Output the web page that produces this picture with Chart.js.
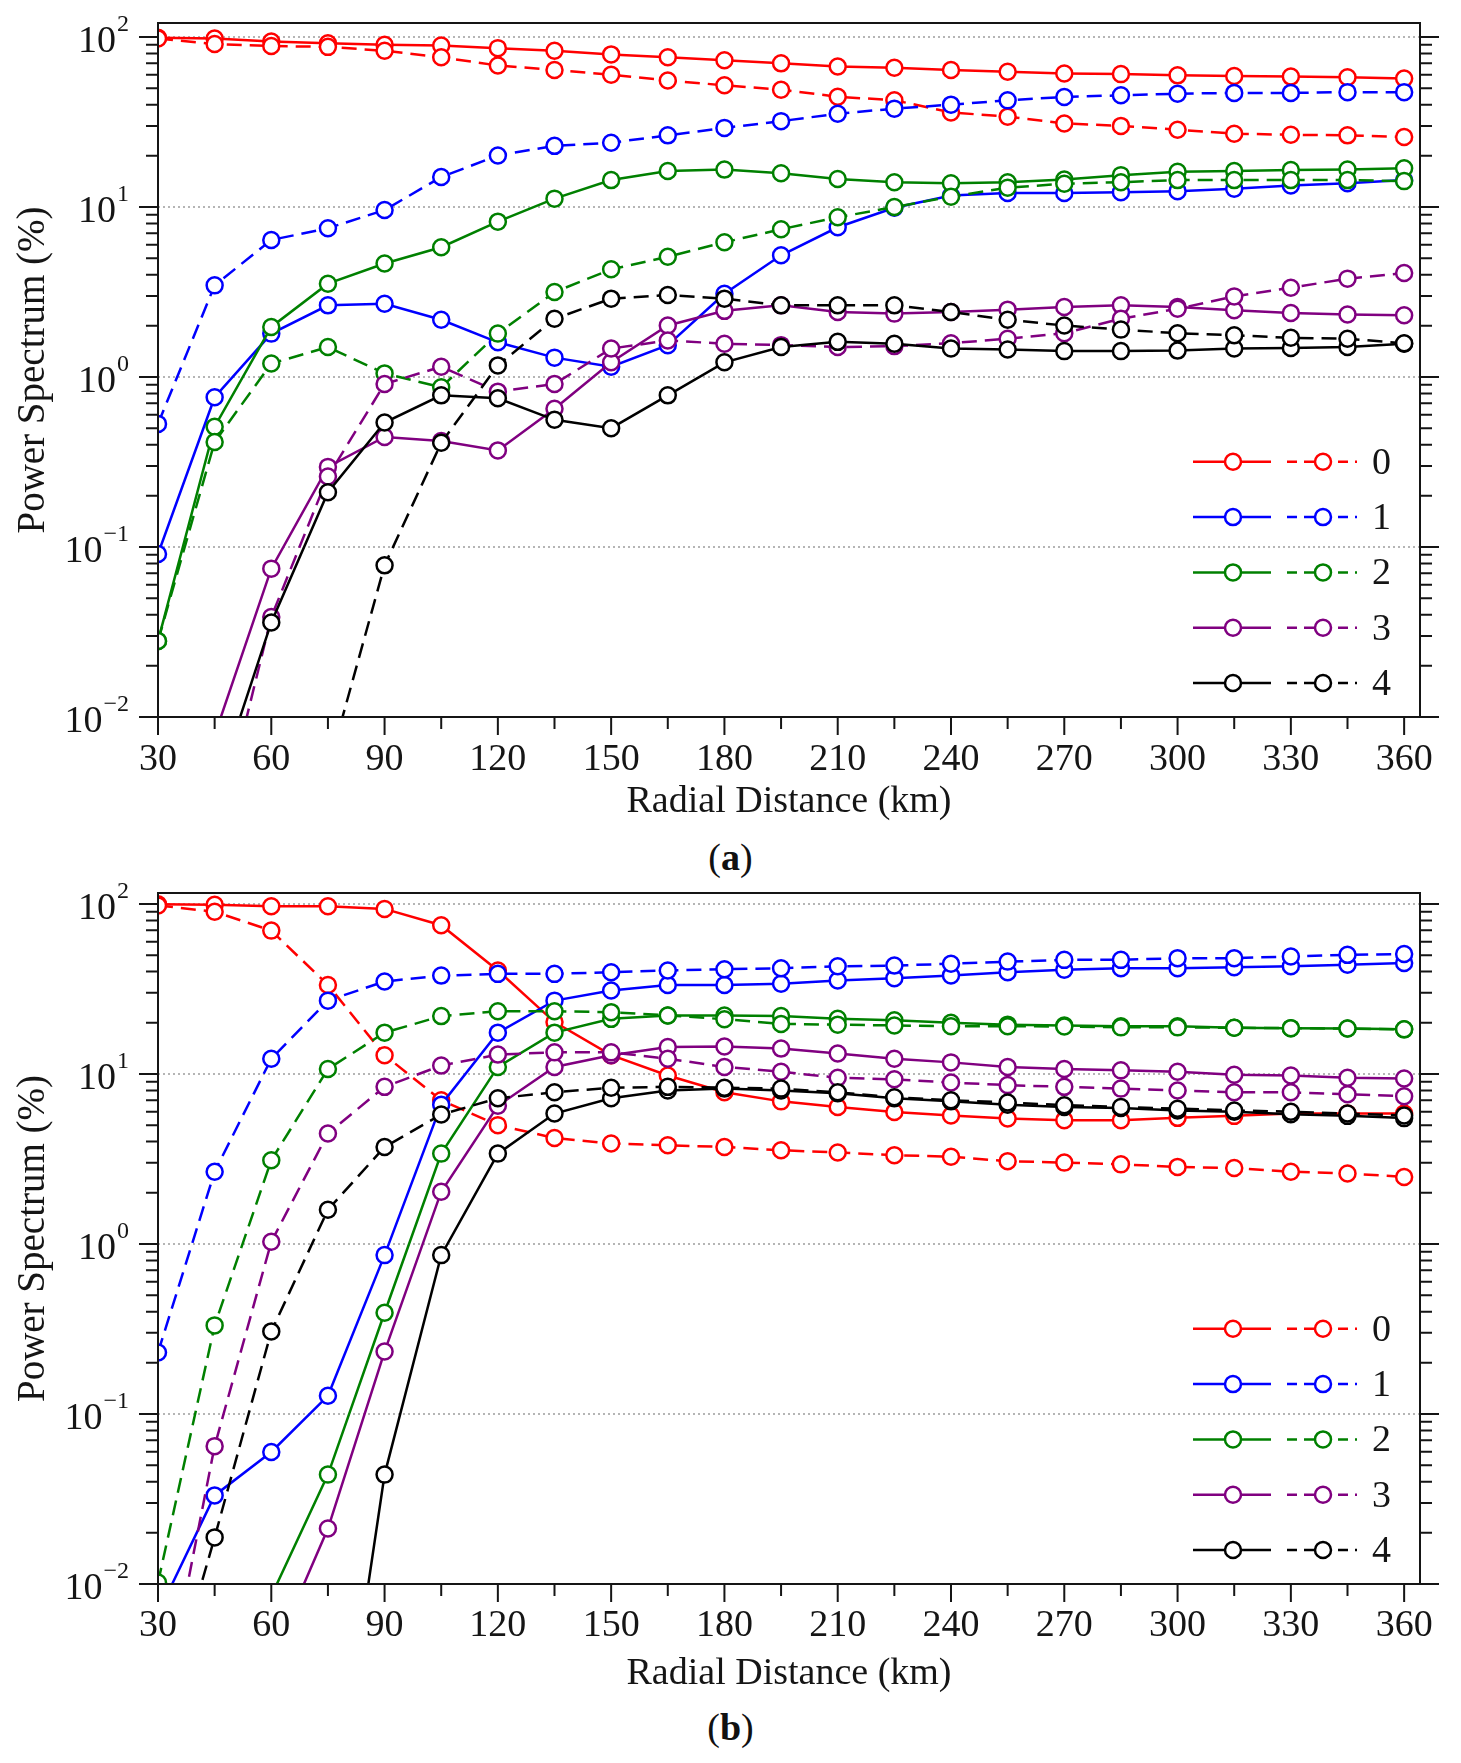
<!DOCTYPE html>
<html>
<head>
<meta charset="utf-8">
<script src="https://cdn.jsdelivr.net/npm/chart.js@4.4.1/dist/chart.umd.min.js"></script>
<style>
  body { margin: 0; background: #fff; width: 1461px; height: 1763px; position: relative; overflow: hidden;
         font-family: "Liberation Serif", serif; }
  .panel { position: absolute; left: 0; width: 1461px; height: 830px; }
  .caption { position: absolute; left: 0; width: 1461px; text-align: center; font-size: 38px; line-height: 38px; color: #111; }
  .warm { position: absolute; left: -1000px; top: 0; font-family: "Liberation Serif"; font-size: 36px; }
</style>
</head>
<body>
<div class="warm">10 Radial Distance (km) Power Spectrum (%) 0123456789</div>
<div class="panel" style="top:0"><canvas id="chartA" width="1461" height="830"></canvas></div>
<div class="caption" style="top:838px">(<b>a</b>)</div>
<div class="panel" style="top:870px"><canvas id="chartB" width="1461" height="830"></canvas></div>
<div class="caption" style="top:1708px">(<b>b</b>)</div>
<script>
// radial distance of every sample (km)
const distanceKm = [30, 45, 60, 75, 90, 105, 120, 135, 150, 165, 180, 195, 210, 225, 240, 255, 270, 285, 300, 315, 330, 345, 360];
const modes = ["0", "1", "2", "3", "4"];
const modeColors = ["#ff0000", "#0000ff", "#008000", "#800080", "#000000"];
const yDecades = [0.01, 0.1, 1, 10, 100];
const yExponents = ["\u22122", "\u22121", "0", "1", "2"];

// panel (a): solid and dashed line for each wavenumber
const aSolid0 = [99, 98, 94, 92, 90, 89, 86, 83, 79, 76, 73, 70, 67, 66, 64, 62.5, 61, 60.5, 59.5, 59, 58.5, 58, 57];
const aDashed0 = [98, 91, 88.5, 87.5, 83, 76, 68, 64, 60, 55.5, 52, 49, 44.5, 42.5, 36, 34, 31, 30, 28.5, 27, 26.6, 26.4, 25.8];
const aSolid1 = [0.091, 0.76, 1.8, 2.64, 2.7, 2.17, 1.6, 1.3, 1.15, 1.54, 3.09, 5.2, 7.6, 9.9, 11.7, 12.1, 12.1, 12.2, 12.4, 12.8, 13.4, 13.8, 14.4];
const aDashed1 = [0.53, 3.46, 6.4, 7.5, 9.6, 15, 20.1, 22.9, 23.9, 26.4, 29.2, 32, 35.4, 37.9, 40, 42.4, 44.4, 45.4, 46.4, 46.9, 46.9, 47.4, 47.4];
const aSolid2 = [0.028, 0.51, 1.97, 3.54, 4.65, 5.8, 8.2, 11.2, 14.4, 16.3, 16.6, 15.8, 14.6, 14, 13.8, 14, 14.5, 15.4, 16.1, 16.3, 16.5, 16.6, 16.9];
const aDashed2 = [0.028, 0.415, 1.2, 1.5, 1.05, 0.87, 1.8, 3.16, 4.3, 5.1, 6.2, 7.4, 8.7, 10, 11.5, 13, 13.7, 14, 14.4, 14.4, 14.4, 14.4, 14.2];
const aSolid3 = [0.0005, 0.0078, 0.0746, 0.296, 0.444, 0.42, 0.37, 0.65, 1.22, 2.01, 2.45, 2.64, 2.41, 2.36, 2.41, 2.49, 2.58, 2.64, 2.58, 2.47, 2.38, 2.33, 2.31];
const aDashed3 = [0.0001, 0.0017, 0.0387, 0.26, 0.91, 1.15, 0.82, 0.91, 1.47, 1.64, 1.57, 1.54, 1.5, 1.52, 1.58, 1.68, 1.81, 2.2, 2.52, 2.98, 3.35, 3.79, 4.09];
const aSolid4 = [0.0002, 0.0035, 0.036, 0.21, 0.54, 0.78, 0.75, 0.56, 0.5, 0.78, 1.22, 1.5, 1.61, 1.57, 1.47, 1.45, 1.42, 1.42, 1.43, 1.47, 1.48, 1.5, 1.57];
const aDashed4 = [0.00003, 0.0002, 0.001, 0.0049, 0.078, 0.41, 1.17, 2.2, 2.89, 3.04, 2.89, 2.64, 2.64, 2.64, 2.41, 2.17, 2.01, 1.9, 1.81, 1.76, 1.7, 1.68, 1.58];

// panel (b)
const bSolid0 = [99.5, 99, 97, 97, 93.5, 75, 40.6, 20.2, 12.9, 9.8, 7.8, 6.9, 6.4, 5.98, 5.7, 5.47, 5.35, 5.35, 5.52, 5.67, 5.85, 5.85, 5.85];
const bDashed0 = [98, 90, 69.7, 33.4, 12.9, 7.0, 5.0, 4.2, 3.9, 3.81, 3.72, 3.56, 3.45, 3.33, 3.26, 3.07, 3.01, 2.94, 2.84, 2.8, 2.66, 2.6, 2.48];
const bSolid1 = [0.0067, 0.0332, 0.0598, 0.128, 0.86, 6.6, 17.5, 27, 31, 33.4, 33.4, 33.9, 35.5, 36.6, 38, 39.7, 41, 41.9, 41.9, 42.5, 43, 43.9, 45];
const bDashed1 = [0.23, 2.66, 12.3, 27, 35, 37.9, 38.8, 38.8, 39.7, 40.6, 41.3, 41.9, 43, 43.4, 44.5, 45.8, 46.9, 46.9, 48, 48, 49.1, 50.2, 50.8];
const bSolid2 = [0.0001, 0.0008, 0.0085, 0.044, 0.394, 3.4, 11, 17.5, 21.1, 22.1, 22.1, 21.9, 21.1, 20.7, 20, 19.5, 19.3, 19.1, 19.1, 18.7, 18.6, 18.5, 18.3];
const bDashed2 = [0.0102, 0.332, 3.11, 10.7, 17.5, 21.9, 23.4, 23.4, 23.1, 22.1, 21, 19.7, 19.5, 19.3, 19.1, 19.1, 19, 18.8, 18.8, 18.7, 18.6, 18.5, 18.3];
const bSolid3 = [0.00005, 0.0004, 0.0036, 0.0212, 0.233, 2.03, 6.5, 11, 12.9, 14.4, 14.5, 14.1, 13.2, 12.3, 11.7, 11, 10.7, 10.5, 10.3, 9.9, 9.8, 9.5, 9.4];
const bDashed3 = [0.0013, 0.0647, 1.03, 4.47, 8.4, 11.2, 13, 13.4, 13.4, 12.3, 11, 10.3, 9.5, 9.3, 8.9, 8.6, 8.4, 8.2, 8.0, 7.8, 7.8, 7.6, 7.4];
const bSolid4 = [0.000001, 0.00001, 0.00005, 0.00025, 0.044, 0.86, 3.4, 5.85, 7.2, 8.0, 8.2, 8.0, 7.7, 7.2, 6.9, 6.6, 6.4, 6.3, 6.1, 6.0, 5.8, 5.67, 5.5];
const bDashed4 = [0.0013, 0.0188, 0.306, 1.59, 3.72, 5.77, 7.2, 7.8, 8.3, 8.4, 8.3, 8.2, 7.8, 7.3, 7.0, 6.8, 6.55, 6.4, 6.25, 6.1, 6.0, 5.85, 5.7];

const FONT = '"Liberation Serif", serif';
const INK = "#151515";
const DASH = [15, 8];

Chart.defaults.font.family = FONT;

function isDecade(v) {
  const l = Math.log10(v);
  return Math.abs(l - Math.round(l)) < 1e-6;
}

function drawMarker(ctx, x, y, color) {
  ctx.beginPath();
  ctx.arc(x, y, 8, 0, Math.PI * 2);
  ctx.fillStyle = "#fff";
  ctx.fill();
  ctx.lineWidth = 2.5;
  ctx.strokeStyle = color;
  ctx.stroke();
}

// box, tick marks, superscript tick labels and the two-column legend
const paperFrame = {
  id: "paperFrame",
  afterDraw(chart) {
    const ctx = chart.ctx;
    const { left, right, top, bottom } = chart.chartArea;
    const xs = chart.scales.x;
    const ys = chart.scales.y;
    ctx.save();
    ctx.strokeStyle = INK;
    ctx.lineWidth = 2;
    ctx.setLineDash([]);
    ctx.strokeRect(left, top, right - left, bottom - top);

    ctx.beginPath();
    for (const d of yDecades) {
      for (let m = 1; m <= 9; m++) {
        const v = d * m;
        if (v > ys.max * 1.0001) break;
        const py = ys.getPixelForValue(v);
        const len = m === 1 ? 19 : 12;
        ctx.moveTo(left - len, py); ctx.lineTo(left, py);
        ctx.moveTo(right, py); ctx.lineTo(right + len, py);
      }
    }
    for (let km = 30; km <= 360; km += 15) {
      const px = xs.getPixelForValue(km);
      const len = km % 30 === 0 ? 18 : 12;
      ctx.moveTo(px, bottom); ctx.lineTo(px, bottom + len);
    }
    ctx.stroke();

    ctx.fillStyle = INK;
    ctx.textBaseline = "middle";
    ctx.textAlign = "left";
    yDecades.forEach((v, i) => {
      const py = ys.getPixelForValue(v);
      const exp = yExponents[i];
      ctx.font = "24px " + FONT;
      const supW = ctx.measureText(exp).width;
      ctx.font = "38px " + FONT;
      const baseW = ctx.measureText("10").width;
      const xr = 129;
      ctx.fillText("10", xr - supW - baseW - 1, py + 5);
      ctx.font = "24px " + FONT;
      ctx.fillText(exp, xr - supW, py - 12);
    });

    modes.forEach((label, i) => {
      const ry = bottom - 34 - 55.3 * (4 - i);
      const color = modeColors[i];
      ctx.strokeStyle = color;
      ctx.lineWidth = 2.5;
      ctx.setLineDash([]);
      ctx.beginPath();
      ctx.moveTo(right - 227, ry); ctx.lineTo(right - 149, ry);
      ctx.stroke();
      drawMarker(ctx, right - 187, ry, color);
      ctx.setLineDash([10, 7]);
      ctx.beginPath();
      ctx.moveTo(right - 133, ry); ctx.lineTo(right - 63, ry);
      ctx.stroke();
      ctx.setLineDash([]);
      drawMarker(ctx, right - 97, ry, color);
      ctx.fillStyle = INK;
      ctx.font = "38px " + FONT;
      ctx.fillText(label, right - 48, ry + 2);
    });
    ctx.restore();
  }
};

function lineSet(values, color, dash, idx) {
  return {
    label: "",
    data: distanceKm.map((km, k) => ({ x: km, y: values[k] })),
    borderColor: color,
    borderWidth: 2.5,
    borderDash: dash,
    pointRadius: 8,
    pointHoverRadius: 8,
    pointBorderWidth: 2.5,
    pointBackgroundColor: "#fff",
    pointBorderColor: color,
    tension: 0,
    order: -idx,
  };
}

function buildChart(canvasId, solid, dashed, layout) {
  const datasets = [];
  modes.forEach((m, i) => {
    datasets.push(lineSet(solid[i], modeColors[i], [], i * 2));
    datasets.push(lineSet(dashed[i], modeColors[i], DASH, i * 2 + 1));
  });
  return new Chart(document.getElementById(canvasId), {
    type: "line",
    data: { datasets },
    plugins: [paperFrame],
    options: {
      responsive: false,
      animation: false,
      devicePixelRatio: 1,
      events: [],
      layout: { padding: { top: layout.top, right: 41, bottom: 0, left: 0 } },
      plugins: { legend: { display: false }, tooltip: { enabled: false } },
      scales: {
        x: {
          type: "linear",
          min: 30,
          max: 364.2,
          afterFit: (s) => { s.height = 830 - layout.bottom; },
          border: { display: false },
          grid: { display: false, drawTicks: false },
          ticks: {
            stepSize: 30,
            includeBounds: false,
            autoSkip: false,
            maxRotation: 0,
            padding: layout.tickPad,
            color: INK,
            font: { family: FONT, size: 38, lineHeight: 1 },
          },
          title: {
            display: true,
            text: "Radial Distance (km)",
            color: INK,
            font: { family: FONT, size: 38, lineHeight: 1.2 },
            padding: { top: 0, bottom: layout.titlePad },
          },
        },
        y: {
          type: "logarithmic",
          min: 0.01,
          max: layout.yMax,
          afterFit: (s) => { s.width = 158; },
          border: { display: false, dash: [2, 3] },
          grid: {
            drawTicks: false,
            lineWidth: 2,
            color: (c) => (c.tick && isDecade(c.tick.value) ? "#b5b5b5" : "rgba(0,0,0,0)"),
          },
          ticks: { display: false },
          title: {
            display: true,
            text: "Power Spectrum (%)",
            color: INK,
            font: { family: FONT, size: 39, lineHeight: 1.2 },
            padding: { top: 10, bottom: 0 },
          },
        },
      },
    },
  });
}

function drawAll() {
  buildChart("chartA",
    [aSolid0, aSolid1, aSolid2, aSolid3, aSolid4],
    [aDashed0, aDashed1, aDashed2, aDashed3, aDashed4],
    { top: 23, bottom: 717, yMax: 120.9, tickPad: 24, titlePad: 5 });

  buildChart("chartB",
    [bSolid0, bSolid1, bSolid2, bSolid3, bSolid4],
    [bDashed0, bDashed1, bDashed2, bDashed3, bDashed4],
    { top: 23, bottom: 714, yMax: 116, tickPad: 23, titlePad: 3 });
}

document.fonts.load('38px "Liberation Serif"').then(drawAll, drawAll);
</script>
</body>
</html>
